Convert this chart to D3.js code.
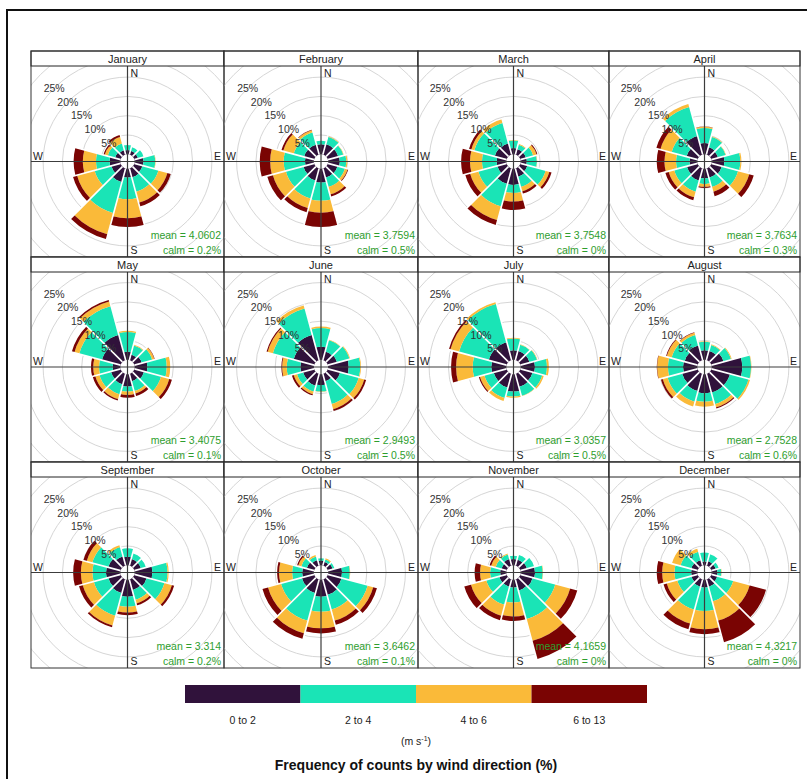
<!DOCTYPE html>
<html>
<head>
<meta charset="utf-8">
<script src="https://cdn.jsdelivr.net/npm/d3@7"></script>
<style>
  body { margin: 0; background: #fff; }
  svg { display: block; font-family: "Liberation Sans", Arial, sans-serif; }
</style>
</head>
<body>
<svg id="chart" width="807" height="779"></svg>
<script>
/* wind roses by month, 30 degree sectors, % of hours per speed bin */

var months = ["January", "February", "March", "April", "May", "June",
              "July", "August", "September", "October", "November", "December"];
var directions = [0, 30, 60, 90, 120, 150, 180, 210, 240, 270, 300, 330];
var speedBins = ["0 to 2", "2 to 4", "4 to 6", "6 to 13"];
var binColours = ["#30123B", "#1AE4B6", "#FABA39", "#7A0403"];
var ringLevels = [5, 10, 15, 20, 25, 30];
var ringLabels = [5, 10, 15, 20, 25];
var meanSpeed = ["4.0602", "3.7594", "3.7548", "3.7634", "3.4075", "2.9493",
                 "3.0357", "2.7528", "3.314", "3.6462", "4.1659", "4.3217"];
var calmPct = ["0.2", "0.5", "0", "0.3", "0.1", "0.5", "0.5", "0.6", "0.2", "0.1", "0", "0"];

// one row per direction (0..330), columns = speed bins
var freqJan = [[1.1,1.3,0,0],[1.0,1.0,0,0],[1.0,1.5,0,0],[2.3,3.0,0.1,0],[2.2,4.3,2.4,0.9],[2.4,3.9,2.9,1.0],
               [2.3,5.6,4.9,2.3],[3.7,8.3,5.7,1.3],[2.5,4.5,4.7,1.1],[2.8,3.5,3.4,2.4],[1.5,2.0,0.8,0.3],[1.2,1.8,1.8,0.5]];
var freqFeb = [[2.6,0.9,0,0],[2.8,2.0,0.1,0],[2.8,1.4,0.1,0],[3.0,1.7,0.3,0],[2.6,2.0,0.7,0.2],[2.5,2.5,2.0,0.6],
               [3.6,4.7,3.1,3.7],[3.3,4.8,2.6,1.1],[2.9,4.7,3.5,1.5],[2.3,5.5,3.5,2.7],[2.7,2.8,2.8,0.5],[2.7,3.3,0.6,0.1]];
var freqMar = [[1.6,2.0,0.1,0],[1.5,1.2,0.2,0],[1.5,2.0,0.9,0.2],[1.6,2.6,0.1,0],[1.9,4.9,1.0,0.6],[2.3,2.7,1.2,0.6],
               [4.2,2.1,2.2,2.2],[4.2,6.0,3.7,1.3],[2.5,5.1,2.2,1.3],[2.5,3.8,3.1,2.3],[3.2,5.5,0.8,0.6],[3.0,5.5,1.0,0]];
var freqApr = [[2.9,3.9,0.3,0.1],[2.0,2.8,0.1,0],[1.8,2.1,0.1,0],[3.3,4.1,0.3,0],[2.8,4.4,3.0,1.2],[2.5,2.5,1.3,1.2],
               [2.5,1.5,0.7,0.3],[3.3,3.0,1.5,0.8],[2.9,3.4,1.5,0.9],[2.0,3.5,3.0,2.0],[3.0,4.0,3.0,1.1],[5.0,7.8,0.8,0]];
var freqMay = [[2.1,5.1,0.3,0],[1.5,2.5,0.2,0],[2.0,2.8,0.6,0.1],[3.3,5.0,0.9,0],[2.6,4.6,2.2,0.7],[2.0,2.6,0.7,0.7],
               [3.2,1.3,0.9,0.7],[2.8,2.7,1.3,0.4],[2.6,3.1,1.1,0.7],[2.0,3.5,1.5,0.6],[5.0,6.1,1.3,0.7],[6.8,7.7,1.3,0.4]];
var freqJun = [[3.4,4.8,0.4,0],[2.3,3.1,0.1,0],[2.5,3.3,0.2,0],[5.3,3.0,0.2,0],[3.3,5.0,1.5,0.5],[2.0,6.1,1.4,0.5],
               [2.8,1.7,0.1,0],[3.2,1.6,0.7,0.3],[3.0,1.6,0.9,0.5],[3.5,3.5,1.2,0.2],[5.5,5.6,1.4,0.3],[6.8,7.1,0.8,0]];
var freqJul = [[2.5,3.0,0.2,0],[2.5,1.7,0.1,0],[2.5,2.0,0.1,0],[3.7,3.1,0.5,0],[3.3,2.6,0.4,0],[3.5,2.4,0.1,0],
               [4.5,1.3,0.3,0],[3.7,2.8,0.8,0],[3.5,2.5,1.2,0.3],[3.9,4.8,4.3,1.3],[4.8,8.0,2.3,0.4],[4.8,10.3,0.5,0]];
var freqAug = [[2.5,2.2,0.1,0],[2.5,1.6,0.2,0],[3.3,2.0,0.2,0],[7.9,2.3,0.1,0],[5.0,5.0,0.4,0],[5.0,3.1,0.9,0.3],
               [4.9,2.2,1.3,0],[4.6,2.9,1.3,0],[4.2,3.9,1.3,0.5],[3.7,3.9,2.8,0.1],[3.5,3.5,1.3,0.2],[4.0,2.8,0.6,0.1]];
var freqSep = [[2.2,2.2,0,0],[1.8,1.5,0,0],[1.8,1.3,0,0],[4.6,3.9,0.3,0],[3.3,4.8,2.0,0.6],[2.9,2.6,1.0,0.5],
               [4.4,2.6,1.5,0.7],[3.7,6.1,2.6,0.5],[3.3,3.9,3.0,1.0],[3.7,3.5,3.0,2.0],[3.3,4.3,1.5,0.9],[2.5,2.5,0.5,0]];
var freqOct = [[1.2,0.6,0,0],[1.0,0.7,0.3,0],[1.3,0.5,0,0],[3.6,2.0,0.1,0],[3.7,7.0,1.5,1.0],[4.2,3.9,3.0,1.1],
               [4.4,3.9,4.3,1.3],[3.7,7.4,3.4,1.5],[3.3,5.6,3.5,1.5],[3.0,2.6,3.4,0.5],[2.0,1.5,0.8,0.3],[1.5,1.0,0.4,0]];
var freqNov = [[1.6,0.9,0,0],[1.6,1.3,0,0],[1.8,1.9,0,0],[3.7,2.0,0.1,0],[3.3,6.1,4.0,1.9],[3.0,7.7,5.8,4.9],
               [2.0,3.9,3.6,1.2],[2.0,4.8,3.0,1.2],[2.0,3.5,4.1,1.8],[1.6,2.6,2.6,1.4],[1.4,1.6,1.2,0.4],[1.8,1.2,0.3,0]];
var freqDec = [[1.0,2.3,0,0],[1.2,1.9,0,0],[1.2,0.8,0,0],[1.5,1.0,0.1,0],[1.6,4.3,4.4,4.4],[2.0,3.9,5.2,5.8],
               [2.0,6.1,4.7,1.3],[2.0,6.1,3.8,1.5],[1.7,3.8,2.8,0.9],[1.6,4.3,3.2,1.4],[1.7,2.9,2.3,0],[1.5,2.3,0.8,0]];

var monthFreqs = [freqJan, freqFeb, freqMar, freqApr, freqMay, freqJun,
                  freqJul, freqAug, freqSep, freqOct, freqNov, freqDec];

var svg = d3.select("#chart");

// panel grid
var colEdges = [31, 224, 418, 609, 800];
var rowEdges = [51, 257, 462, 668];
var stripH = 15;
var sector = 30;

var rScale = d3.scaleLinear().domain([0, 25]).range([7.2, 7.2 + 25 * 3.86]);
var colour = d3.scaleOrdinal().domain(speedBins).range(binColours);
var rad = Math.PI / 180;

// outer frame of the figure
svg.append("rect")
  .attr("x", 7).attr("y", 10).attr("width", 900).attr("height", 900)
  .attr("fill", "none").attr("stroke", "#111").attr("stroke-width", 2);

function drawRose(i) {
  var col = i % 4, row = Math.floor(i / 4);
  var x0 = colEdges[col], x1 = colEdges[col + 1];
  var y0 = rowEdges[row], y1 = rowEdges[row + 1];
  var top = y0 + stripH;
  var cx = (x0 + x1) / 2, cy = (top + y1) / 2;

  var rows = directions.map(function(d, j) {
    var o = {dir: d};
    speedBins.forEach(function(b, k) { o[b] = monthFreqs[i][j][k]; });
    return o;
  });
  var series = d3.stack().keys(speedBins)(rows);
  var totals = rows.map(function(o) { return d3.sum(speedBins, function(b) { return o[b]; }); });

  var clipId = "clip" + i;
  svg.append("clipPath").attr("id", clipId)
    .append("rect").attr("x", x0).attr("y", top).attr("width", x1 - x0).attr("height", y1 - top);

  var g = svg.append("g").attr("clip-path", "url(#" + clipId + ")");
  var c = g.append("g").attr("transform", "translate(" + cx + "," + cy + ")");

  // grid rings
  c.selectAll("circle.ring").data(ringLevels).enter().append("circle")
    .attr("class", "ring")
    .attr("r", function(p) { return rScale(p); })
    .attr("fill", "none").attr("stroke", "#d6d6d6").attr("stroke-width", 1);

  // stacked wedges
  var arc = d3.arc();
  series.forEach(function(s) {
    c.selectAll(null).data(s).enter().append("path")
      .attr("d", function(d) {
        return arc({innerRadius: rScale(d[0]), outerRadius: rScale(d[1]),
                    startAngle: (d.data.dir - sector / 2) * rad,
                    endAngle: (d.data.dir + sector / 2) * rad});
      })
      .attr("fill", colour(s.key));
  });

  // white gaps between sectors
  directions.forEach(function(d, j) {
    var a = (d + sector / 2) * rad;
    var outer = rScale(Math.max(totals[j], totals[(j + 1) % directions.length])) + 1;
    c.append("line")
      .attr("x1", rScale(0) * Math.sin(a)).attr("y1", -rScale(0) * Math.cos(a))
      .attr("x2", outer * Math.sin(a)).attr("y2", -outer * Math.cos(a))
      .attr("stroke", "#fff").attr("stroke-width", 1.6);
  });

  // compass axes
  g.append("line").attr("x1", x0).attr("x2", x1).attr("y1", cy).attr("y2", cy)
    .attr("stroke", "#3c3c3c").attr("stroke-width", 1.2);
  g.append("line").attr("x1", cx).attr("x2", cx).attr("y1", top).attr("y2", y1)
    .attr("stroke", "#3c3c3c").attr("stroke-width", 1.2);

  var lab = g.append("g").attr("font-size", 10.5).attr("fill", "#222");
  lab.append("text").attr("x", cx + 3).attr("y", top + 11).text("N");
  lab.append("text").attr("x", cx + 3).attr("y", y1 - 3).text("S");
  lab.append("text").attr("x", x0 + 2).attr("y", cy - 2).text("W");
  lab.append("text").attr("x", x1 - 3).attr("y", cy - 2).attr("text-anchor", "end").text("E");

  // ring labels along the NW diagonal
  c.selectAll("text.rl").data(ringLabels).enter().append("text")
    .attr("class", "rl")
    .attr("x", function(p) { return -rScale(p) * Math.SQRT1_2; })
    .attr("y", function(p) { return -rScale(p) * Math.SQRT1_2 + 4; })
    .attr("text-anchor", "middle").attr("font-size", 10.5).attr("fill", "#333")
    .text(function(p) { return p + "%"; });

  // stats
  svg.append("text").attr("x", x1 - 3).attr("y", y1 - 18).attr("text-anchor", "end")
    .attr("font-size", 10.5).attr("fill", "#2e9e2e").text("mean = " + meanSpeed[i]);
  svg.append("text").attr("x", x1 - 3).attr("y", y1 - 3).attr("text-anchor", "end")
    .attr("font-size", 10.5).attr("fill", "#2e9e2e").text("calm = " + calmPct[i] + "%");

  // strip
  svg.append("rect").attr("x", x0).attr("y", y0).attr("width", x1 - x0).attr("height", stripH)
    .attr("fill", "#fff").attr("stroke", "#222").attr("stroke-width", 1);
  svg.append("text").attr("x", cx).attr("y", y0 + 11.5).attr("text-anchor", "middle")
    .attr("font-size", 11).attr("fill", "#222").text(months[i]);

  svg.append("rect").attr("x", x0).attr("y", y0).attr("width", x1 - x0).attr("height", y1 - y0)
    .attr("fill", "none").attr("stroke", "#333").attr("stroke-width", 1);
}

months.forEach(function(m, i) { drawRose(i); });

// legend
var lx = d3.scaleBand().domain(speedBins).range([185, 647]);
var leg = svg.append("g");
leg.selectAll("rect").data(speedBins).enter().append("rect")
  .attr("x", function(b) { return lx(b); }).attr("y", 685)
  .attr("width", lx.bandwidth()).attr("height", 18)
  .attr("fill", function(b) { return colour(b); });
leg.selectAll("text").data(speedBins).enter().append("text")
  .attr("x", function(b) { return lx(b) + lx.bandwidth() / 2; }).attr("y", 724)
  .attr("text-anchor", "middle").attr("font-size", 10.5).attr("fill", "#222")
  .style("font-family", "'Liberation Sans Narrow', 'Liberation Sans', Arial, sans-serif")
  .text(function(b) { return b; });

var unit = svg.append("text").attr("x", 416).attr("y", 745).attr("text-anchor", "middle")
  .attr("font-size", 10.5).attr("fill", "#222")
  .style("font-family", "'Liberation Sans Narrow', 'Liberation Sans', Arial, sans-serif");
unit.append("tspan").text("(m s");
unit.append("tspan").attr("dy", -4).attr("font-size", 7).text("-1");
unit.append("tspan").attr("dy", 4).text(")");

svg.append("text").attr("x", 416).attr("y", 770).attr("text-anchor", "middle")
  .attr("font-size", 14).attr("font-weight", "bold").attr("fill", "#111")
  .text("Frequency of counts by wind direction (%)");
</script>
</body>
</html>
